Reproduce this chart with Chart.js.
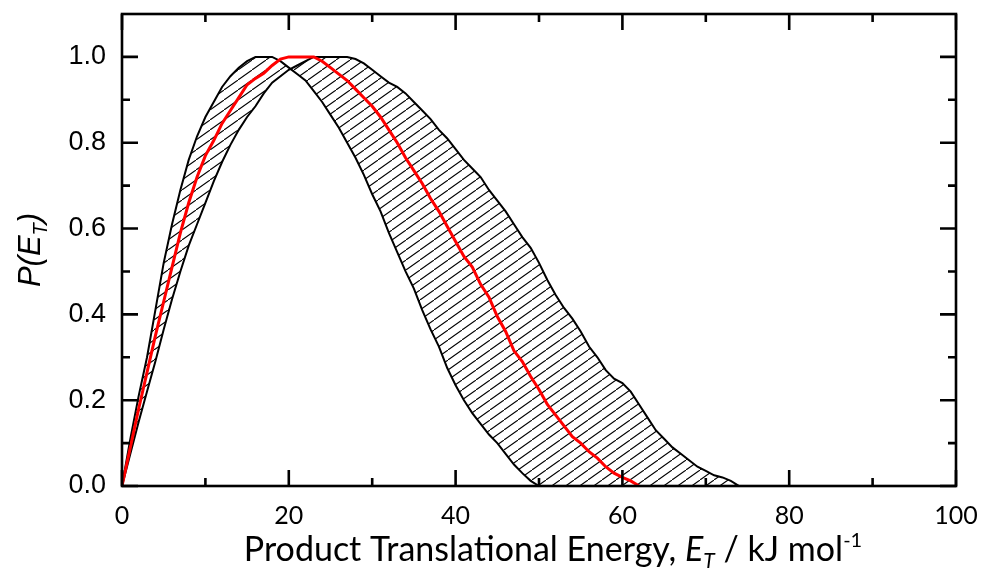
<!DOCTYPE html>
<html>
<head>
<meta charset="utf-8">
<script src="https://cdn.jsdelivr.net/npm/chart.js@4/dist/chart.umd.min.js"></script>
<style>
  html, body { margin: 0; padding: 0; background: #fff; }
</style>
</head>
<body>
<canvas id="grafica" width="984" height="571"></canvas>
<script>
// energy grid (kJ/mol)
const energy = [
  0, 1, 2, 3, 4, 5, 6, 7, 8, 9, 10, 11, 12, 13, 14, 15, 16, 17, 18, 19,
  20, 21, 22, 23, 24, 25, 26, 27, 28, 29, 30, 31, 32, 33, 34, 35, 36, 37, 38, 39,
  40, 41, 42, 43, 44, 45, 46, 47, 48, 49, 50, 51, 52, 53, 54, 55, 56, 57, 58, 59,
  60, 61, 62, 63, 64, 65, 66, 67, 68, 69, 70, 71, 72, 73, 74
];

// best fit P(E_T), red (0..62)
const bestFit = [
  0, 0.09, 0.18, 0.265, 0.35, 0.43, 0.51, 0.59, 0.66, 0.72,
  0.77, 0.805, 0.845, 0.875, 0.905, 0.935, 0.95, 0.962, 0.98, 0.995,
  1.0, 1.0, 1.0, 1.0, 0.99, 0.975, 0.96, 0.945, 0.925, 0.905,
  0.885, 0.86, 0.83, 0.8, 0.765, 0.735, 0.705, 0.67, 0.64, 0.605,
  0.57, 0.535, 0.51, 0.47, 0.44, 0.395, 0.36, 0.315, 0.29, 0.255,
  0.225, 0.19, 0.165, 0.14, 0.115, 0.1, 0.08, 0.065, 0.045, 0.03,
  0.02, 0.012, 0
];

// bound that rises fast and falls early
const earlyBound = [
  0, 0.11, 0.21, 0.3, 0.41, 0.52, 0.61, 0.69, 0.76, 0.815,
  0.86, 0.895, 0.93, 0.955, 0.975, 0.99, 1.0, 1.0, 1.0, 0.99,
  0.975, 0.96, 0.945, 0.92, 0.895, 0.865, 0.835, 0.8, 0.765, 0.725,
  0.68, 0.64, 0.59, 0.545, 0.5, 0.46, 0.41, 0.365, 0.325, 0.275,
  0.235, 0.2, 0.17, 0.145, 0.12, 0.1, 0.075, 0.05, 0.03, 0.012,
  0, 0, 0, 0, 0, 0, 0, 0, 0, 0,
  0, 0, 0, 0, 0, 0, 0, 0, 0, 0,
  0, 0, 0, 0, 0
];

// bound that rises slowly and falls late
const lateBound = [
  0, 0.075, 0.15, 0.22, 0.29, 0.365, 0.435, 0.5, 0.56, 0.61,
  0.66, 0.71, 0.755, 0.795, 0.83, 0.86, 0.885, 0.915, 0.94, 0.955,
  0.97, 0.98, 0.99, 1.0, 1.0, 1.0, 1.0, 1.0, 0.995, 0.985,
  0.97, 0.955, 0.94, 0.93, 0.915, 0.895, 0.875, 0.855, 0.83, 0.81,
  0.785, 0.76, 0.74, 0.72, 0.69, 0.665, 0.64, 0.61, 0.58, 0.555,
  0.52, 0.48, 0.445, 0.415, 0.39, 0.36, 0.325, 0.3, 0.27, 0.25,
  0.24, 0.22, 0.19, 0.16, 0.13, 0.11, 0.09, 0.075, 0.06, 0.045,
  0.035, 0.025, 0.02, 0.012, 0
];

const xTickValues = [0, 20, 40, 60, 80, 100];
const yTickValues = [0, 0.2, 0.4, 0.6, 0.8, 1.0];
const xMinorTicks = [10, 30, 50, 70, 90];
const yMinorTicks = [0.1, 0.3, 0.5, 0.7, 0.9];

function toPoints(values) {
  return values.map((v, i) => ({ x: energy[i], y: v }));
}

function makeHatch() {
  const w = 14, h = 10;
  const c = document.createElement("canvas");
  c.width = w;
  c.height = h;
  const g = c.getContext("2d");
  g.strokeStyle = "#000";
  g.lineWidth = 1.1;
  g.beginPath();
  for (const [dx, dy] of [[-w, h], [0, 0], [w, -h]]) {
    g.moveTo(dx - 1, h + dy + h / w);
    g.lineTo(w + dx + 1, dy - h / w);
  }
  g.stroke();
  return g.createPattern(c, "repeat");
}

// frame + inward ticks on all four sides
const framePlugin = {
  id: "frame",
  afterDatasetsDraw(chart) {
    const { ctx, chartArea: a, scales } = chart;
    const x = scales.x, y = scales.y;
    ctx.save();
    ctx.strokeStyle = "#000";
    ctx.lineWidth = 2.6;
    ctx.strokeRect(a.left, a.top, a.right - a.left, a.bottom - a.top);
    ctx.beginPath();
    const tick = (v, len, horiz) => {
      if (horiz) {
        const px = x.getPixelForValue(v);
        ctx.moveTo(px, a.bottom); ctx.lineTo(px, a.bottom - len);
        ctx.moveTo(px, a.top); ctx.lineTo(px, a.top + len);
      } else {
        const py = y.getPixelForValue(v);
        ctx.moveTo(a.left, py); ctx.lineTo(a.left + len, py);
        ctx.moveTo(a.right, py); ctx.lineTo(a.right - len, py);
      }
    };
    xTickValues.forEach((v) => tick(v, 16, true));
    xMinorTicks.forEach((v) => tick(v, 8, true));
    yTickValues.forEach((v) => tick(v, 16, false));
    yMinorTicks.forEach((v) => tick(v, 8, false));
    ctx.stroke();
    ctx.restore();
  },
};

// axis titles with sub/superscripts
function drawParts(ctx, parts, x, baseline) {
  let cx = x;
  for (const p of parts) {
    ctx.font = p.font;
    ctx.fillText(p.text, cx, baseline + (p.dy || 0));
    cx += ctx.measureText(p.text).width;
  }
}
function partsWidth(ctx, parts) {
  let w = 0;
  for (const p of parts) {
    ctx.font = p.font;
    w += ctx.measureText(p.text).width;
  }
  return w;
}

const titlePlugin = {
  id: "titles",
  afterDraw(chart) {
    const { ctx } = chart;
    ctx.save();
    ctx.fillStyle = "#000";
    ctx.textBaseline = "alphabetic";
    ctx.textAlign = "left";

    const xParts = [
      { text: "Product Translational Energy, ", font: "34px Lato" },
      { text: "E", font: "italic 34px Lato" },
      { text: "T", font: "italic 21px Lato", dy: 7 },
      { text: " / kJ mol", font: "34px Lato" },
      { text: "-1", font: "20px Lato", dy: -14 },
    ];
    const xw = partsWidth(ctx, xParts);
    drawParts(ctx, xParts, 553 - xw / 2, 561);

    const yParts = [
      { text: "P(E", font: "italic 31px 'Liberation Sans'" },
      { text: "T", font: "italic 20px 'Liberation Sans'", dy: 7 },
      { text: ")", font: "italic 31px 'Liberation Sans'" },
    ];
    const yw = partsWidth(ctx, yParts);
    ctx.translate(40, 250);
    ctx.rotate(-Math.PI / 2);
    drawParts(ctx, yParts, -yw / 2, 0);
    ctx.restore();
  },
};

const ctx = document.getElementById("grafica").getContext("2d");

const config = {
  type: "line",
  data: {
    datasets: [
      {
        label: "best fit",
        data: toPoints(bestFit),
        borderColor: "#ff0000",
        borderWidth: 3,
        pointRadius: 0,
        fill: false,
      },
      {
        label: "early bound",
        data: toPoints(earlyBound),
        borderColor: "#000",
        borderWidth: 2,
        pointRadius: 0,
        backgroundColor: makeHatch(),
        fill: "+1",
      },
      {
        label: "late bound",
        data: toPoints(lateBound),
        borderColor: "#000",
        borderWidth: 2,
        pointRadius: 0,
        fill: false,
      },
    ],
  },
  options: {
    responsive: false,
    animation: false,
    devicePixelRatio: 1,
    layout: { padding: { left: 0, right: 28, top: 14, bottom: 0 } },
    elements: { line: { tension: 0 } },
    plugins: { legend: { display: false }, tooltip: { enabled: false } },
    scales: {
      x: {
        type: "linear",
        min: 0,
        max: 100,
        grid: { display: false, drawTicks: false },
        border: { display: false },
        afterBuildTicks: (s) => { s.ticks = xTickValues.map((v) => ({ value: v })); },
        afterFit: (s) => {
          s.height = 85;
          s.paddingLeft = 0;
          s.paddingRight = 0;
        },
        ticks: {
          color: "#000",
          padding: 15,
          maxRotation: 0,
          font: { family: "Lato", size: 25 },
        },
      },
      y: {
        type: "linear",
        min: 0,
        max: 1.1,
        grid: { display: false, drawTicks: false },
        border: { display: false },
        afterBuildTicks: (s) => { s.ticks = yTickValues.map((v) => ({ value: v })); },
        afterFit: (s) => {
          s.width = 122;
          s.paddingTop = 0;
          s.paddingBottom = 0;
        },
        ticks: {
          color: "#000",
          padding: 16,
          font: { family: "'Liberation Sans'", size: 27 },
          callback: (v) => v.toFixed(1),
        },
      },
    },
  },
  plugins: [framePlugin, titlePlugin],
};

const grafica = new Chart(ctx, config);
</script>
</body>
</html>
